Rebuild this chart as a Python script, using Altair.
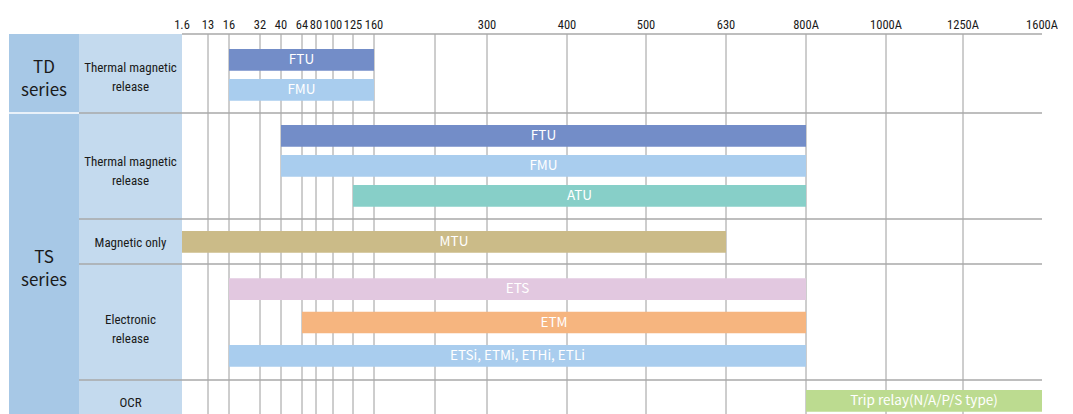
import altair as alt
import numpy as np
import pandas as pd

# ---------------- data ----------------
tick_values = [1.6, 13, 16, 32, 40, 64, 80, 100, 125, 160, 250, 300, 400, 500, 630, 800, 1000, 1250, 1600]
tick_labels = ["1.6", "13", "16", "32", "40", "64", "80", "100", "125", "160", "",
               "300", "400", "500", "630", "800A", "1000A", "1250A", "1600A"]

series_labels = ["TD\nseries", "TS\nseries"]
group_labels = ["Thermal magnetic\nrelease", "Thermal magnetic\nrelease", "Magnetic only",
                "Electronic\nrelease", "OCR"]

products = ["FTU", "FMU", "FTU", "FMU", "ATU", "MTU", "ETS", "ETM",
            "ETSi, ETMi, ETHi, ETLi", "Trip relay(N/A/P/S type)"]
product_group = [0, 0, 1, 1, 1, 2, 3, 3, 3, 4]
product_start = [16, 16, 40, 40, 125, 1.6, 16, 64, 16, 800]
product_end = [160, 160, 800, 800, 800, 630, 800, 800, 800, 1600]
product_colors = ["#738dc8", "#a9cdee", "#738dc8", "#a9cdee", "#87cfc8", "#cbbb88",
                  "#e2c8e0", "#f6b57f", "#a9cdee", "#bcdb90"]

# ---------------- layout / style ----------------
SER_W = 70          # series column width
SUB_W = 103         # sub-label column width
# the axis is non-uniform: pixel position of each tick (piecewise-linear scale range)
tick_pixels = [173, 199, 220, 251, 272, 293, 307, 324, 344, 365, 426, 478, 558, 637, 717, 797, 877, 954, 1033]
WIDTH = 1033
HEADER_H = 26
panel_h = [79, 106, 45, 116, 40]
bar_top = [15, 12, 12, 14.3, 10]
bar_step = [30, 30, 30, 33.35, 30]
BAR_H = 21.7
sub_label_y = [34, 48.5, 24, 56, 23]     # first-line centre of each row label
TD_LABEL_Y = 33.5                         # first-line centre, TD panel
TS_LABEL_Y = -6.5                         # first-line centre, relative to electronic panel

SERIES_BG = "#a7c8e6"
SUB_BG = "#c4daee"
GRID = "#9c9c9c"
SEP = "#a8a8a8"
TXT = "#1a1a1a"
SANS = "Noto Sans CJK JP, Noto Sans, sans-serif"
NARROW = "Roboto Condensed, Liberation Sans Narrow, Roboto, sans-serif"

xscale = alt.Scale(domain=tick_values, range=tick_pixels, zero=False, nice=False)


def to_px(v):
    return np.interp(v, tick_values, tick_pixels)


def from_px(p):
    return np.interp(p, tick_pixels, tick_values)


bars_df = pd.DataFrame({
    "name": products,
    "group": product_group,
    "start": product_start,
    "end": product_end,
    "color": product_colors,
})
bars_df["key"] = [f"{g}-{i}" for i, g in enumerate(product_group)]
bars_df["mid"] = [float(from_px((to_px(s) + to_px(e)) / 2)) for s, e in zip(product_start, product_end)]

grid_df = pd.DataFrame({"v": tick_values[1:-1]})
header_df = pd.DataFrame({"v": tick_values, "label": tick_labels})


def series_text(label, y):
    sdata = alt.Data(values=[{"label": label}])
    return alt.Chart(sdata).mark_text(color=TXT, font=SANS, fontSize=17, lineBreak="\n",
                                      lineHeight=23, align="center", baseline="middle").encode(
        x=alt.value(SER_W / 2), y=alt.value(y), text="label:N")


def panel(gi):
    h = panel_h[gi]
    df = bars_df[bars_df.group == gi]
    keys = list(df.key)
    n = len(keys)
    top = bar_top[gi]
    step = bar_step[gi]
    yscale = alt.Scale(type="band", domain=keys, range=[top, top + step * (n - 1) + BAR_H],
                       paddingInner=1 - BAR_H / step, paddingOuter=0)
    one = alt.Data(values=[{"label": group_labels[gi]}])
    layers = []
    layers.append(alt.Chart(one).mark_rect(color=SERIES_BG).encode(
        x=alt.value(0), x2=alt.value(SER_W), y=alt.value(0), y2=alt.value(h)))
    layers.append(alt.Chart(one).mark_rect(color=SUB_BG).encode(
        x=alt.value(SER_W), x2=alt.value(SER_W + SUB_W), y=alt.value(0), y2=alt.value(h)))
    layers.append(alt.Chart(grid_df).mark_rule(color=GRID, strokeWidth=1).encode(
        x=alt.X("v:Q", scale=xscale, axis=None), y=alt.value(0), y2=alt.value(h)))
    sep_start = SER_W + SUB_W if gi == 0 else SER_W
    layers.append(alt.Chart(one).mark_rule(color=SEP, strokeWidth=1.5).encode(
        x=alt.value(sep_start), x2=alt.value(WIDTH), y=alt.value(0)))
    if gi == 1:
        layers.append(alt.Chart(one).mark_rule(color="white", strokeWidth=1.5).encode(
            x=alt.value(0), x2=alt.value(SER_W), y=alt.value(0)))
    layers.append(alt.Chart(df).mark_bar().encode(
        x=alt.X("start:Q", scale=xscale, axis=None), x2="end:Q",
        y=alt.Y("key:N", scale=yscale, axis=None),
        color=alt.Color("color:N", scale=None)))
    layers.append(alt.Chart(df).mark_text(color="white", font=SANS, fontSize=13.5, baseline="middle").encode(
        x=alt.X("mid:Q", scale=xscale, axis=None),
        y=alt.Y("key:N", scale=yscale, axis=None),
        text="name:N"))
    layers.append(alt.Chart(one).mark_text(color=TXT, font=NARROW, fontSize=13, lineBreak="\n",
                                           lineHeight=19, align="center", baseline="middle").encode(
        x=alt.value(SER_W + SUB_W / 2), y=alt.value(sub_label_y[gi]), text="label:N"))
    if gi == 0:
        layers.append(series_text(series_labels[0], TD_LABEL_Y))
    if gi == 3:
        layers.append(series_text(series_labels[1], TS_LABEL_Y))
    return alt.layer(*layers).properties(width=WIDTH, height=h)


header = alt.Chart(header_df).mark_text(color=TXT, font=NARROW, fontSize=12.5,
                                        align="center", baseline="alphabetic").encode(
    x=alt.X("v:Q", scale=xscale, axis=None), y=alt.value(21), text="label:N"
).properties(width=WIDTH, height=HEADER_H)

chart = alt.vconcat(header, *[panel(i) for i in range(5)], spacing=0, bounds="flush").resolve_scale(
    x="independent", y="independent"
).properties(padding=0).configure_view(stroke=None)

chart.save("out.html", embed_options={"renderer": "svg", "actions": False})
